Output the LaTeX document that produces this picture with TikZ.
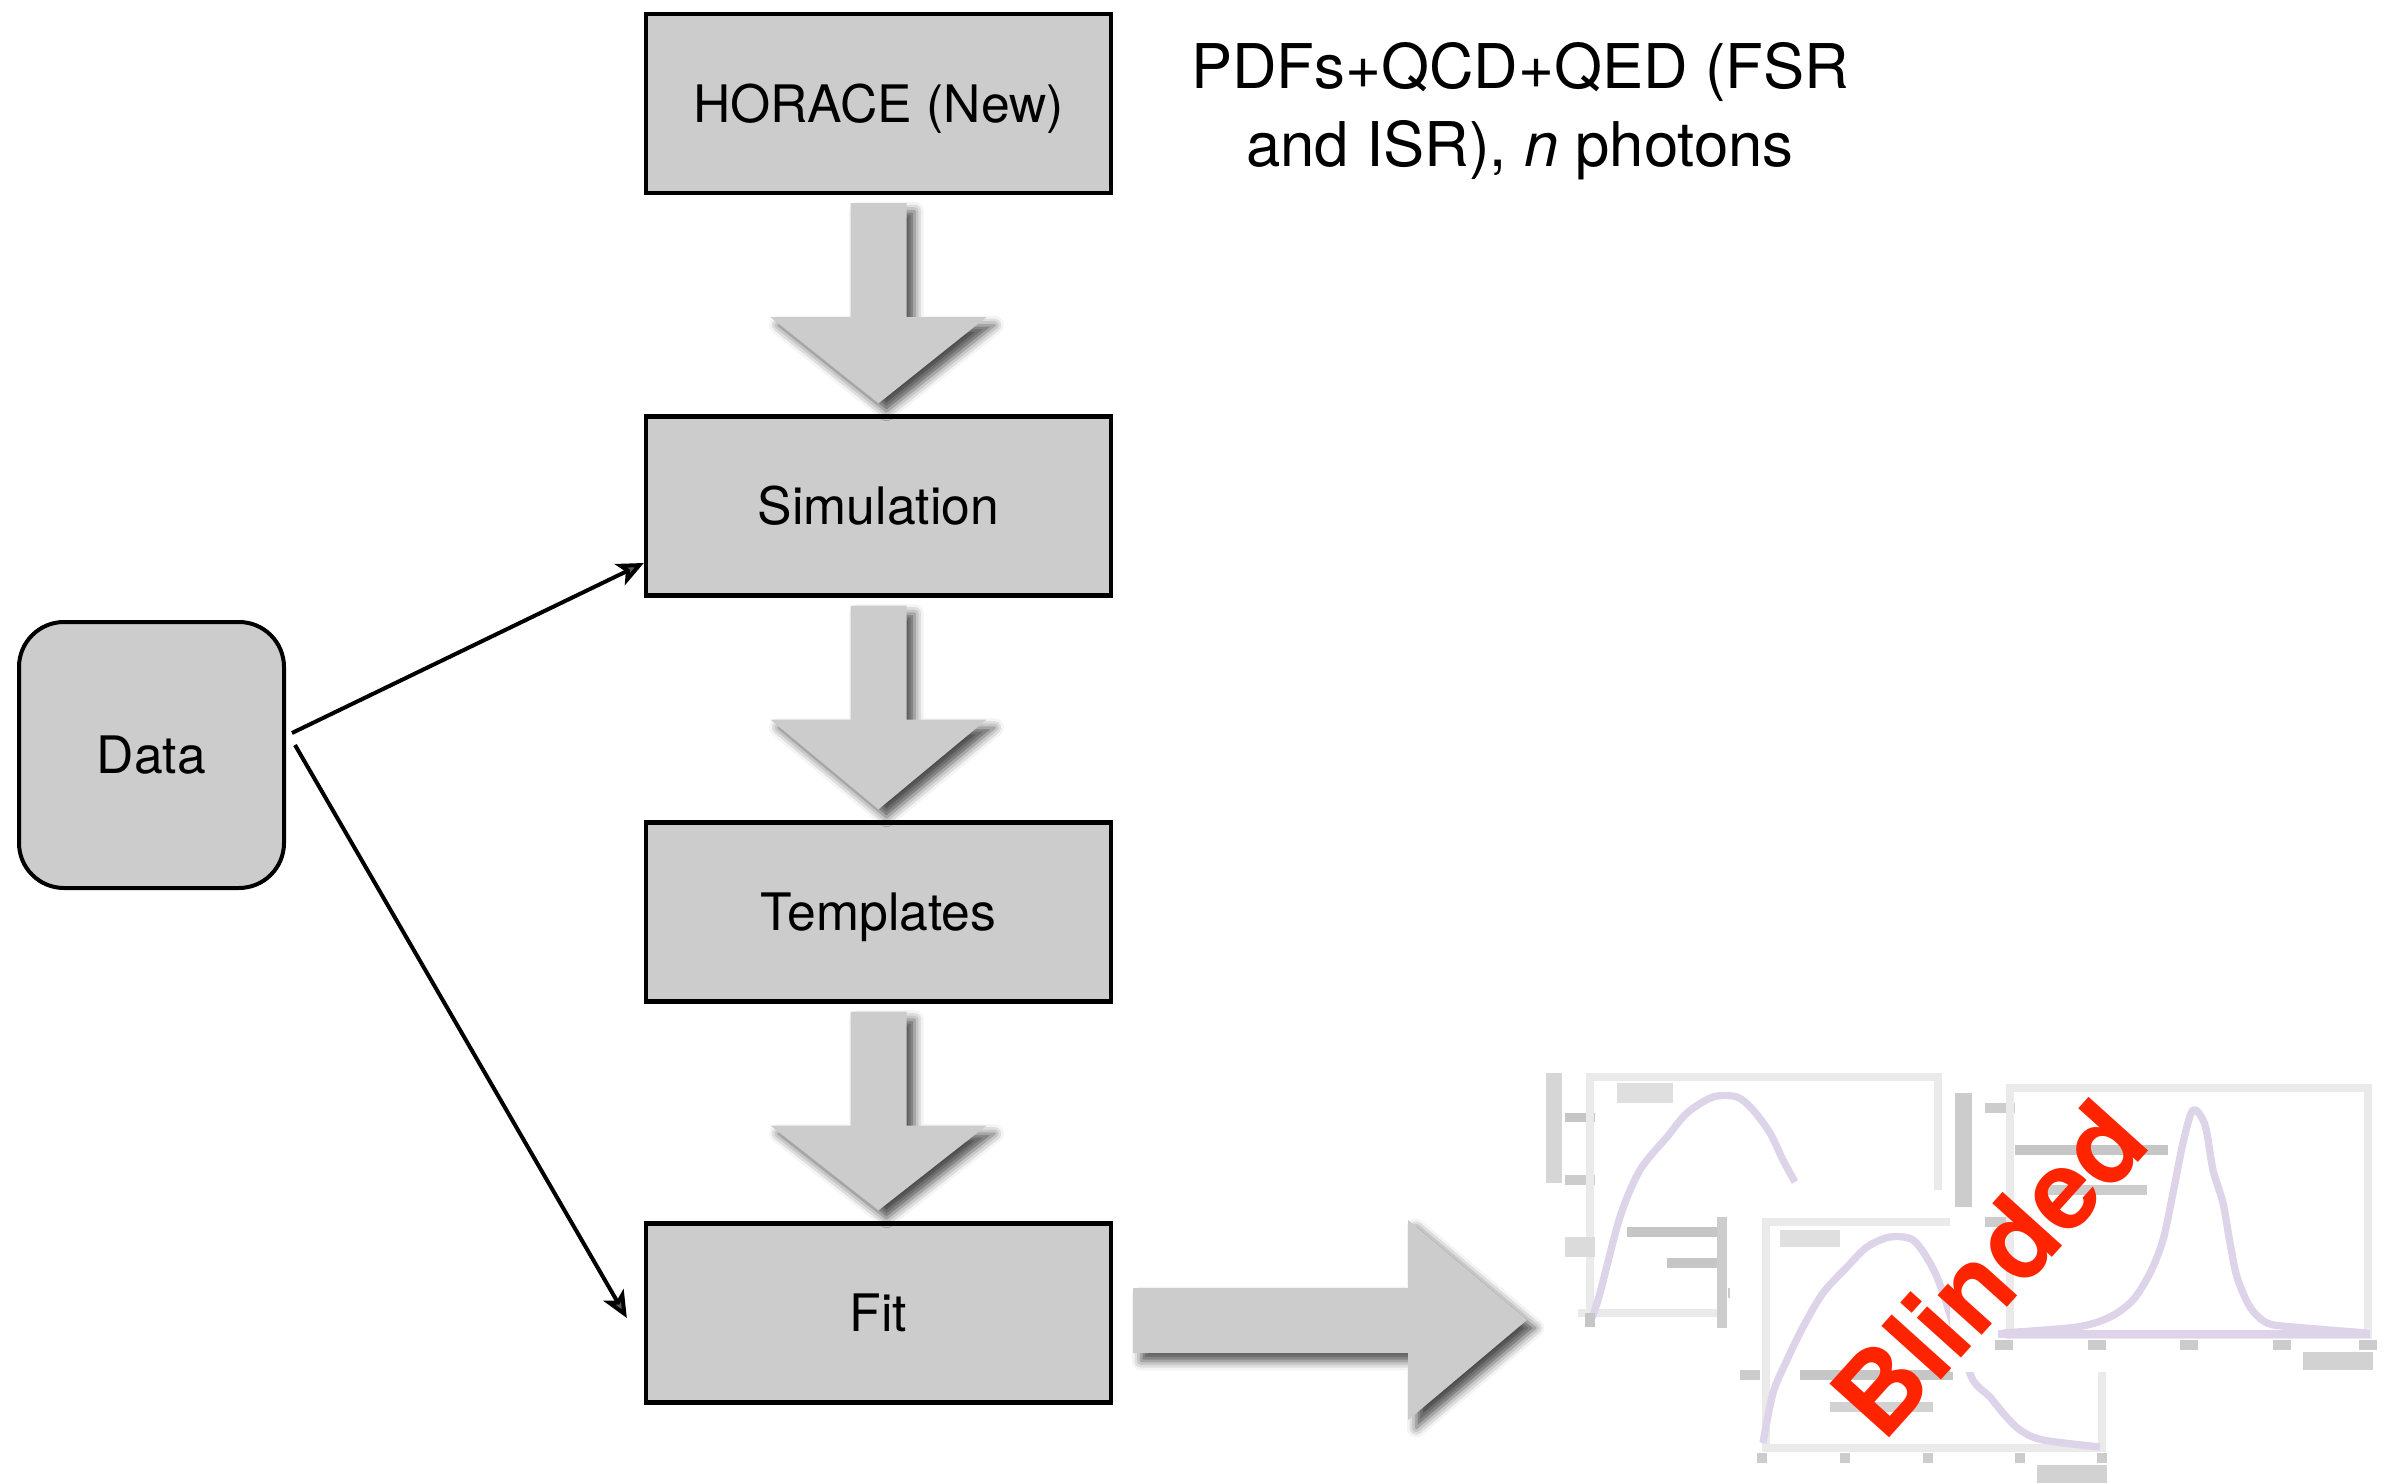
\documentclass[tikz,border=0pt]{standalone}
\usepackage{fontspec}
\setmainfont{TeX Gyre Heros}
\usetikzlibrary{calc,arrows.meta,shadows.blur}

\definecolor{boxgray}{HTML}{CCCCCC}
\definecolor{blindred}{RGB}{255,36,0}
\definecolor{histline}{RGB}{222,212,234}
\definecolor{framegray}{RGB}{234,234,234}

\tikzset{
  stage/.style={draw=black, line width=1.3pt, fill=boxgray,
    minimum width=139.5pt, minimum height=53.7pt, inner sep=0pt,
    text height=11.2pt, text depth=0pt,
    font=\fontsize{15.5pt}{18pt}\selectfont},
  source/.style={draw=black, line width=1.2pt, fill=boxgray,
    rounded corners=13.5pt, minimum width=79.5pt, minimum height=79.8pt,
    inner sep=0pt, text height=11.2pt, text depth=0pt,
    font=\fontsize{15.5pt}{18pt}\selectfont},
  feed/.style={line width=1.2pt, -{Stealth[length=8pt,width=7pt,inset=2pt]}},
  blockarrow/.style={fill=boxgray, blur shadow={shadow xshift=2.4pt,
    shadow yshift=-2.4pt, shadow blur radius=2.8pt, shadow opacity=70}},
  pframe/.style={draw=framegray, line width=2.6pt},
  hist/.style={draw=histline, line width=2.2pt, smooth, line join=round},
  lbl/.style={fill=gray!#1, draw=none},
  lbl/.default=40,
  cover/.style={fill=white, draw=none}
}

% wide block arrow from the bottom of one stage to the top of the next
\newcommand\stagearrow[2]{%
  \path[blockarrow]
    ($(#1.south)+(-28,8)$) -- ($(#1.south)+(28,8)$) --
    ($(#1.south)+(28,122)$) -- ($(#1.south)+(108,122)$) --
    ($(#2.north)+(0,-11)$) --
    ($(#1.south)+(-108,122)$) -- ($(#1.south)+(-28,122)$) -- cycle;}

\begin{document}
\begin{tikzpicture}[x=0.3pt, y=-0.3pt]
\useasboundingbox (0,0) rectangle (2393,1484);

% chain of stages
\node[stage] (horace) at (878.5,103.5) {HORACE (New)};
\node[stage] (sim)    at (878.5,506)   {Simulation};
\node[stage] (templ)  at (878.5,912)   {Templates};
\node[stage] (fit)    at (878.5,1313)  {Fit};
\node[source] (data)  at (151.5,755)   {Data};

\node[font=\fontsize{18.5pt}{23.7pt}\selectfont, align=center, anchor=base]
  (note) at (1520,167) {PDFs+QCD+QED (FSR\\and ISR), \textit{n} photons};

\stagearrow{horace}{sim}
\stagearrow{sim}{templ}
\stagearrow{templ}{fit}

% data feeds the simulation and the fit
\coordinate (d1) at ($(data.east)+(6,-22)$);
\coordinate (d2) at ($(data.east)+(9,-10)$);
\coordinate (s1) at ($(sim.west)+(0,57)$);
\coordinate (f1) at ($(fit.west)+(-17,5)$);
\draw[feed] (d1) -- (s1);
\draw[feed] (d2) -- (f1);

% result plots (blinded)
\coordinate (plots) at (1527,1320);

% -- plot A (back)
\fill[lbl=32] (1546,1073) rectangle (1562,1183);
\fill[lbl=45] (1565,1113) rectangle (1595,1122);
\fill[lbl=40] (1565,1175) rectangle (1595,1185);
\fill[lbl=25] (1617,1083) rectangle (1673,1103);
\draw[pframe] (1590,1318) -- (1590,1077) -- (1938,1077) -- (1938,1190);
\draw[pframe] (1578,1313) -- (1727,1313);
\draw[hist] plot coordinates {(1592,1318) (1600,1293) (1620,1217) (1640,1170)
  (1667,1137) (1687,1113) (1713,1097) (1737,1097) (1753,1110) (1770,1133)
  (1783,1160) (1795,1182)};
\fill[lbl=45] (1627,1227) rectangle (1717,1237);
\fill[lbl=45] (1667,1258) rectangle (1717,1268);
\fill[lbl=28] (1565,1237) rectangle (1595,1257);
\fill[lbl=45] (1585,1313) rectangle (1595,1327);
\draw[gray!40, line width=3pt] (1722,1217) -- (1722,1328);
\draw[gray!40, line width=3pt] (1728,1293) -- (1760,1293);

% -- plot C (middle)
\fill[cover] (1730,1205) rectangle (2115,1484);
\draw[pframe] (1766,1222) rectangle (2102,1448);
\draw[hist] plot coordinates {(1763,1443) (1773,1393) (1787,1360) (1803,1327)
  (1823,1293) (1847,1267) (1867,1247) (1890,1237) (1913,1240) (1930,1263)
  (1942,1290) (1958,1340) (1973,1380) (1990,1397) (2003,1413) (2020,1430)
  (2043,1440) (2100,1447)};
\fill[lbl=25] (1780,1230) rectangle (1840,1247);
\fill[lbl=45] (1800,1370) rectangle (1953,1380);
\fill[lbl=35] (1830,1402) rectangle (1933,1412);
\fill[lbl=40] (1740,1370) rectangle (1760,1380);
\foreach \tx in {1762,1845,1928,2020,2102}
  \fill[lbl=40] (\tx-5,1453) rectangle (\tx+5,1463);
\fill[lbl=35] (2037,1465) rectangle (2107,1483);

% -- plot B (front)
\fill[cover] (1950,1080) rectangle (2393,1372);
\fill[lbl=40] (1955,1093) rectangle (1972,1207);
\fill[lbl=40] (1985,1103) rectangle (2015,1113);
\fill[lbl=40] (1985,1217) rectangle (2015,1227);
\draw[pframe] (2010,1088) rectangle (2368,1335);
\draw[histline, line width=2.6pt] (1998,1334) -- (2370,1334);
\fill[lbl=45] (2015,1145) rectangle (2168,1155);
\fill[lbl=40] (2043,1185) rectangle (2147,1195);
\draw[hist] plot coordinates {(2003,1333) (2077,1327) (2110,1317) (2133,1300)
  (2150,1273) (2163,1240) (2173,1193) (2183,1143) (2193,1110) (2205,1125)
  (2213,1170) (2223,1203) (2230,1243) (2237,1277) (2250,1307) (2267,1323)
  (2293,1327) (2367,1333)};
\foreach \tx in {2004,2097,2189,2282,2368}
  \fill[lbl=40] (\tx-9,1340) rectangle (\tx+9,1350);
\fill[lbl=35] (2303,1352) rectangle (2373,1370);

\node[text=blindred, font=\fontsize{33pt}{38pt}\selectfont\bfseries,
  rotate=48, inner sep=0pt] (blind) at (1988,1268) {Blinded};

% fit result goes to the plots
\path[blockarrow]
  ($(fit.east)+(20,-25)$) -- ($(fit.east)+(295,-25)$) --
  ($(fit.east)+(295,-93)$) -- (plots) -- ($(fit.east)+(295,107)$) --
  ($(fit.east)+(295,40)$) -- ($(fit.east)+(20,40)$) -- cycle;
\end{tikzpicture}
\end{document}
